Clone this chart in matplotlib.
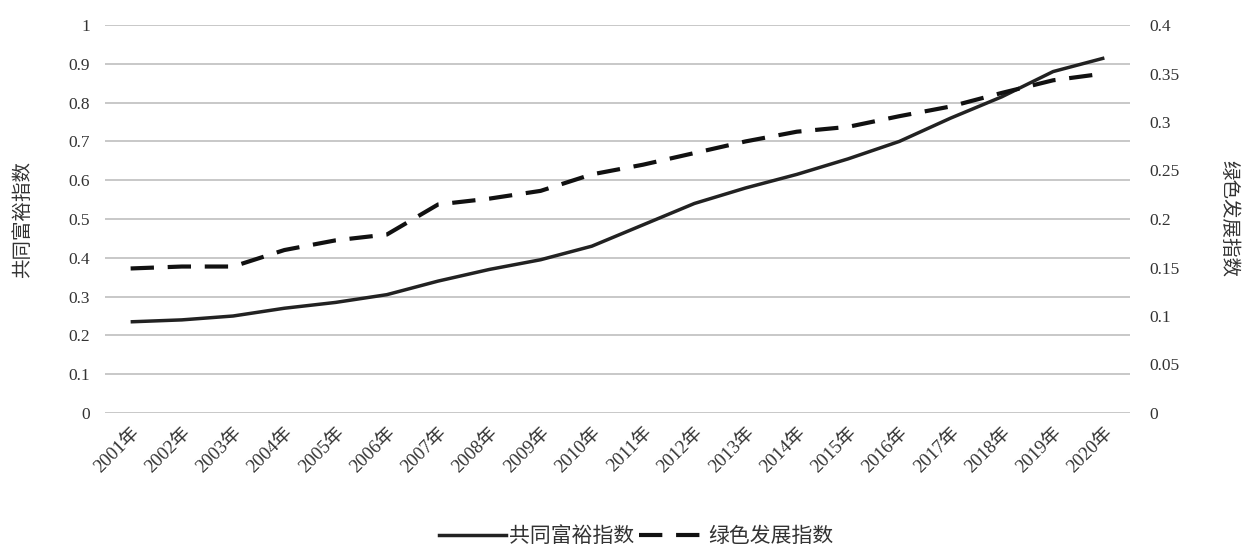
import matplotlib
matplotlib.use("Agg")
import matplotlib.pyplot as plt
from matplotlib.lines import Line2D

plt.rcParams['font.family'] = ['Liberation Serif', 'Noto Sans CJK SC', 'DejaVu Sans']

years = [f"{y}年" for y in range(2001, 2021)]
common_prosperity = [0.235, 0.240, 0.250, 0.270, 0.285, 0.305, 0.340, 0.370, 0.395, 0.430,
                     0.485, 0.540, 0.580, 0.615, 0.655, 0.700, 0.760, 0.815, 0.880, 0.915]
green_development = [0.149, 0.151, 0.151, 0.168, 0.178, 0.184, 0.215, 0.221, 0.229, 0.246,
                     0.256, 0.268, 0.280, 0.290, 0.295, 0.306, 0.316, 0.330, 0.343, 0.350]
left_ticks = [0, 0.1, 0.2, 0.3, 0.4, 0.5, 0.6, 0.7, 0.8, 0.9, 1]
left_labels = ["0", "0.1", "0.2", "0.3", "0.4", "0.5", "0.6", "0.7", "0.8", "0.9", "1"]
right_ticks = [0, 0.05, 0.1, 0.15, 0.2, 0.25, 0.3, 0.35, 0.4]
right_labels = ["0", "0.05", "0.1", "0.15", "0.2", "0.25", "0.3", "0.35", "0.4"]

fig = plt.figure(figsize=(12.48, 5.54), dpi=100)
ax = fig.add_axes([105 / 1248, 1 - 413 / 554, (1130 - 105) / 1248, (413 - 25) / 554])
ax2 = ax.twinx()

x = list(range(len(years)))
ax.plot(x, common_prosperity, color='#222222', lw=2.5, solid_capstyle='butt', zorder=3)
ax2.plot(x, green_development, color='#111111', lw=3.0, dashes=(5.6, 3.3), zorder=3)

ax.set_xlim(-0.5, len(years) - 0.5)
ax.set_ylim(0, 1)
ax2.set_ylim(0, 0.4)

ax.set_yticks(left_ticks)
ax.set_yticklabels(left_labels)
ax2.set_yticks(right_ticks)
ax2.set_yticklabels(right_labels)

ax.yaxis.grid(True, color='#c8c8c8', lw=1.4)
ax.set_axisbelow(True)
for a in (ax, ax2):
    for s in a.spines.values():
        s.set_visible(False)
    a.tick_params(axis='both', length=0, labelsize=12.5, colors='#333333')
ax.tick_params(axis='y', pad=11)
ax2.tick_params(axis='y', pad=14)

ax.set_xticks(x)
ax.set_xticklabels(years, rotation=45, ha='right', rotation_mode='anchor', fontsize=13.5)
ax.tick_params(axis='x', pad=8)

ax.set_ylabel("共同富裕指数", fontsize=14, color='#333333', labelpad=26)
ax2.set_ylabel("绿色发展指数", fontsize=14, color='#333333', rotation=270, labelpad=42)

handles = [Line2D([], [], color='#222222', lw=2.5),
           Line2D([], [], color='#111111', lw=3.0, dashes=(5.6, 3.3))]
fig.legend(handles, ["共同富裕指数", "绿色发展指数"], loc='center',
           bbox_to_anchor=(0.51, 1 - 537 / 554), ncol=2, frameon=False,
           fontsize=15, handlelength=3.2, columnspacing=0.2, handletextpad=0.15,
           labelcolor='#333333')

fig.savefig("out.png", dpi=100, facecolor='white')
